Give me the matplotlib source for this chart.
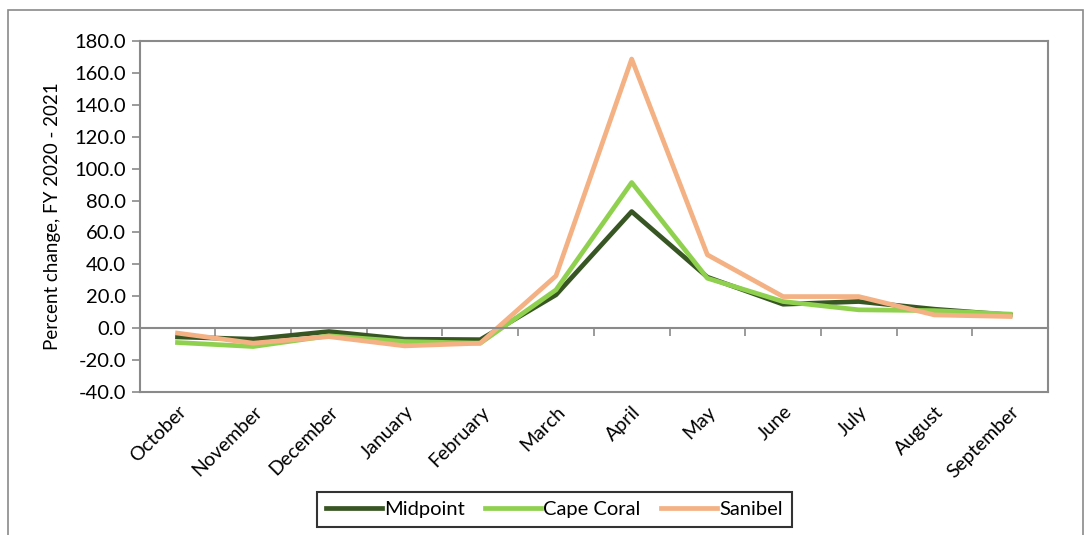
import numpy as np
import matplotlib.pyplot as plt
from matplotlib.patches import Rectangle

plt.rcParams['font.family'] = ['Lato', 'DejaVu Sans']

months = ['October', 'November', 'December', 'January', 'February', 'March',
          'April', 'May', 'June', 'July', 'August', 'September']
midpoint = [-5.5, -6.9, -2.1, -6.9, -7.2, 20.9, 73.1, 32.0, 15.0, 16.7, 11.9, 8.3]
cape_coral = [-9.0, -11.5, -4.8, -8.4, -9.4, 24.0, 91.3, 31.3, 16.7, 11.5, 11.0, 8.8]
sanibel = [-3.1, -9.4, -5.3, -11.1, -9.4, 32.8, 168.7, 46.0, 19.8, 19.8, 8.3, 7.3]

GRAY = '#8a8a8a'

fig = plt.figure(figsize=(10.91, 5.35), dpi=100)
ax = fig.add_axes([0.128, 0.2673, 0.9606 - 0.128, 0.9234 - 0.2673])

x = np.arange(len(months))
ax.plot(x, midpoint, color='#375623', lw=3.4, label='Midpoint')
ax.plot(x, cape_coral, color='#8fd14f', lw=3.4, label='Cape Coral')
ax.plot(x, sanibel, color='#f4b183', lw=3.4, label='Sanibel')

ax.set_xlim(-0.5, len(months) - 0.5)
ax.set_ylim(-40, 180)
ax.set_yticks(np.arange(-40, 181, 20))
ax.set_yticklabels([f'{v:.1f}' for v in np.arange(-40, 181, 20)], fontsize=14.5)
ax.tick_params(axis='y', direction='out', length=6, width=1.2, color=GRAY, pad=4)

# category axis crosses at zero; tick marks at category boundaries
ax.spines['bottom'].set_position(('data', 0))
ax.set_xticks(np.arange(-0.5, len(months), 1.0))
ax.set_xticklabels([])
ax.tick_params(axis='x', direction='out', length=6, width=1.2, color=GRAY)
for s in ax.spines.values():
    s.set_color(GRAY)
    s.set_linewidth(1.5)

# month labels sit along the bottom of the plot frame
sec = ax.secondary_xaxis(0.0)
sec.set_xticks(x)
sec.set_xticklabels(months, rotation=45, ha='right', rotation_mode='anchor', fontsize=14)
sec.tick_params(length=0, pad=8)
sec.spines['bottom'].set_color(GRAY)
sec.spines['bottom'].set_linewidth(1.5)

ax.set_ylabel('Percent change, FY 2020 - 2021', fontsize=13.5)
ax.yaxis.set_label_coords(-0.087, 0.5)

leg = fig.legend(loc='center', bbox_to_anchor=(0.508, 0.047), ncol=3, fontsize=14.5,
                 frameon=True, fancybox=False, edgecolor='black', handlelength=2.8,
                 handletextpad=0.1, columnspacing=1.0, borderpad=0.45)
leg.get_frame().set_linewidth(1.5)

fig.patches.append(Rectangle((0.007, -0.1), 0.986, 1.081, transform=fig.transFigure,
                             fill=False, edgecolor=GRAY, lw=1.2))

fig.savefig('out.png', dpi=100)
